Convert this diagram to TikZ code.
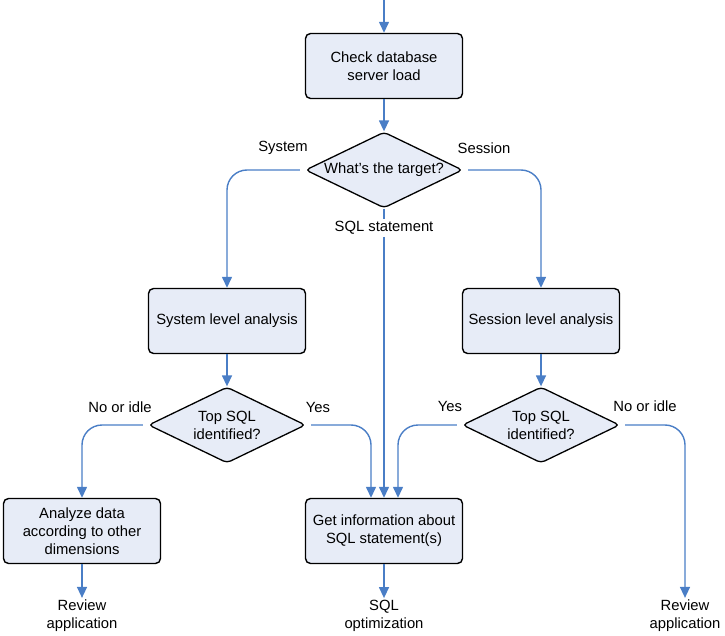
\documentclass[tikz,border=0pt]{standalone}
\usepackage{fontspec}
\setmainfont{Liberation Sans}
\usetikzlibrary{shapes.geometric,arrows.meta}
\definecolor{flowblue}{RGB}{74,126,198}
\definecolor{boxfill}{RGB}{231,236,247}

\begin{document}
\begin{tikzpicture}[x=1pt,y=-1pt,font=\fontsize{14.8}{18}\selectfont]
	\tikzstyle{box}=[rectangle,rounded corners=5pt,draw=black,line width=1.4pt,fill=boxfill,minimum width=157pt,minimum height=65pt,align=center,inner sep=2pt]
	\tikzstyle{test}=[diamond,aspect=2,rounded corners=4pt,draw=black,line width=1.3pt,fill=boxfill,minimum width=157pt,minimum height=76pt,align=center,inner sep=0pt]
	\tikzstyle{flow}=[draw=flowblue,line width=1.4pt,rounded corners=20pt,-{Triangle[length=11pt,width=10pt]}]
	\tikzstyle{txt}=[align=center,inner sep=2pt]
	\useasboundingbox (0,0) rectangle (725,636);
	\coordinate (in) at (384,0);
	\node[box](v1) at (384,66) {Check database\\server load};
	\node[test](v2) at (384,170) {What's the target?};
	\node[box](v3) at (227,321) {System level analysis};
	\node[box](v4) at (541,321) {Session level analysis};
	\node[test](v5) at (227,425) {Top SQL\\identified?};
	\node[test](v6) at (541,425) {Top SQL\\identified?};
	\node[box](v7) at (82,531) {Analyze data\\according to other\\dimensions};
	\node[box](v8) at (384,531) {Get information about\\SQL statement(s)};
	\node[txt](e1) at (82,616) {Review\\application};
	\node[txt](e2) at (384,616) {SQL\\optimization};
	\node[txt](e3) at (685,616) {Review\\application};
	\node[txt](sql) at (384,228) {SQL statement};
	% branch labels
	\node[txt](l1) at (283,148) {System};
	\node[txt](l2) at (484,148) {Session};
	\node[txt](l3) at (120,407) {No or idle};
	\node[txt](l4) at (318,407) {Yes};
	\node[txt](l5) at (450,406) {Yes};
	\node[txt](l6) at (645,406) {No or idle};
	% connectors
	\draw[flow] (in) -- (v1);
	\draw[flow] (v1) -- (v2);
	\draw[flow,shorten <=5pt] (v2.west) -| (v3);
	\draw[flow,shorten <=5pt] (v2.east) -| (v4);
	\draw[draw=flowblue,line width=1.4pt] (v2) -- (sql);
	\draw[flow] (sql) -- (v8);
	\draw[flow] (v3) -- (v5);
	\draw[flow] (v4) -- (v6);
	\draw[flow,shorten <=5pt] (v5.west) -| (v7);
	\draw[flow,shorten <=5pt] (v5.east) -| ([xshift=-13pt]v8.north);
	\draw[flow,shorten <=5pt] (v6.west) -| ([xshift=14pt]v8.north);
	\draw[flow,shorten <=5pt] (v6.east) -| (e3);
	\draw[flow] (v7) -- (e1);
	\draw[flow] (v8) -- (e2);
\end{tikzpicture}
\end{document}
